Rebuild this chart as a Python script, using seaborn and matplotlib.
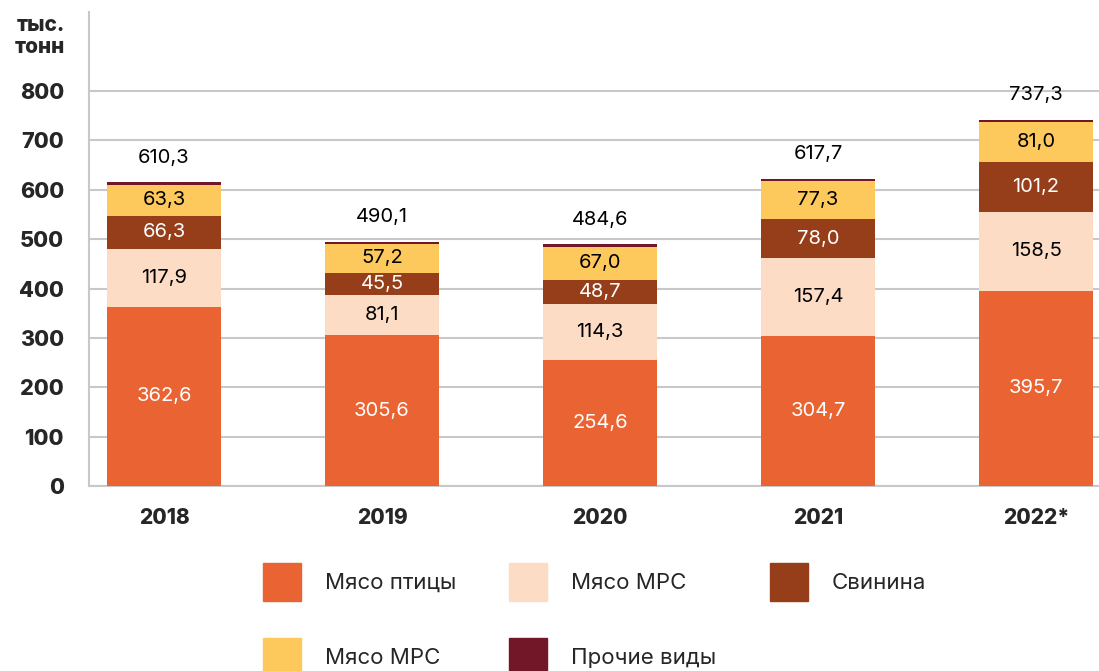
import numpy as np
import pandas as pd
import matplotlib
matplotlib.use("Agg")
import matplotlib.pyplot as plt
from matplotlib.patches import Patch
import seaborn as sns

# Данные (тыс. тонн)
years = ['2018', '2019', '2020', '2021', '2022*']
poultry = [362.6, 305.6, 254.6, 304.7, 395.7]
mrs = [117.9, 81.1, 114.3, 157.4, 158.5]
pork = [66.3, 45.5, 48.7, 78.0, 101.2]
krs = [63.3, 57.2, 67.0, 77.3, 81.0]
other = [5.0, 5.0, 5.0, 5.0, 5.0]
totals = [610.3, 490.1, 484.6, 617.7, 737.3]

labels = ['Мясо птицы', 'Мясо МРС', 'Свинина', 'Мясо МРС', 'Прочие виды']
colors = ['#EA6433', '#FCDCC4', '#963E19', '#FDC85C', '#711728']
text_colors = ['white', 'black', 'white', 'black']

sns.set_style('white')
plt.rcParams['font.family'] = ['Inter', 'DejaVu Sans']

df = pd.DataFrame({'year': years, 'poultry': poultry, 'mrs': mrs,
                   'pork': pork, 'krs': krs, 'other': other})
series = ['poultry', 'mrs', 'pork', 'krs', 'other']
cum = df[series].cumsum(axis=1)

fig = plt.figure(figsize=(10.99, 6.71), dpi=100)
ax = fig.add_axes([89 / 1099, 185 / 671, 1 - 89 / 1099, 474 / 671])

# Рисуем накопленные столбцы от самого высокого к самому низкому
for s, c in reversed(list(zip(series, colors))):
    sns.barplot(x=df['year'], y=cum[s], color=c, saturation=1, width=0.52,
                linewidth=0, ax=ax, zorder=3)

# Подписи сегментов
for j, s in enumerate(series[:4]):
    for i in range(len(years)):
        v = df[s][i]
        y = cum[s][i] - v / 2
        ax.text(i, y, f'{v:.1f}'.replace('.', ','), ha='center', va='center',
                fontsize=14.5, color=text_colors[j], zorder=4)

# Итоговые значения
for i in range(len(years)):
    ax.annotate(f'{totals[i]:.1f}'.replace('.', ','), (i, cum['other'][i]),
                xytext=(0, 17.6), textcoords='offset points',
                ha='center', va='center', fontsize=14.5, color='black')

ax.set_xlim(-75 / 218, (1099 - 164) / 218)
ax.set_ylim(0, 960)
ax.set_yticks(np.arange(0, 801, 100))
ax.yaxis.grid(True, color='#c8c8c8', linewidth=1.5, zorder=0)
ax.set_axisbelow(True)
for side in ['top', 'right']:
    ax.spines[side].set_visible(False)
ax.spines['left'].set_color('#c8c8c8')
ax.spines['left'].set_linewidth(1.5)
ax.spines['bottom'].set_color('#c8c8c8')
ax.spines['bottom'].set_linewidth(1.5)
ax.tick_params(axis='y', length=0, pad=18, labelsize=15.5)
ax.tick_params(axis='x', length=0, pad=16, labelsize=15)
for t in ax.get_yticklabels() + ax.get_xticklabels():
    t.set_fontweight('heavy')
ax.set_xlabel('')
ax.set_ylabel('')

fig.text(65 / 1099, 1 - 25 / 671, 'тыс.', ha='right', va='center',
         fontsize=15, fontweight='heavy')
fig.text(65 / 1099, 1 - 47 / 671, 'тонн', ha='right', va='center',
         fontsize=15, fontweight='heavy')

# Легенда: 3 элемента в первой строке, 2 во второй
handles = [Patch(color=c) for c in colors]
order = [0, 3, 1, 4, 2]
fig.legend([handles[k] for k in order], [labels[k] for k in order],
           loc='upper left', bbox_to_anchor=(263 / 1099, 1 - 563 / 671),
           ncol=3, frameon=False, fontsize=16, handlelength=1.7,
           handleheight=2.26, handletextpad=1.08, columnspacing=2.4,
           labelspacing=1.67, borderpad=0, borderaxespad=0)

fig.savefig('out.png', dpi=100)
